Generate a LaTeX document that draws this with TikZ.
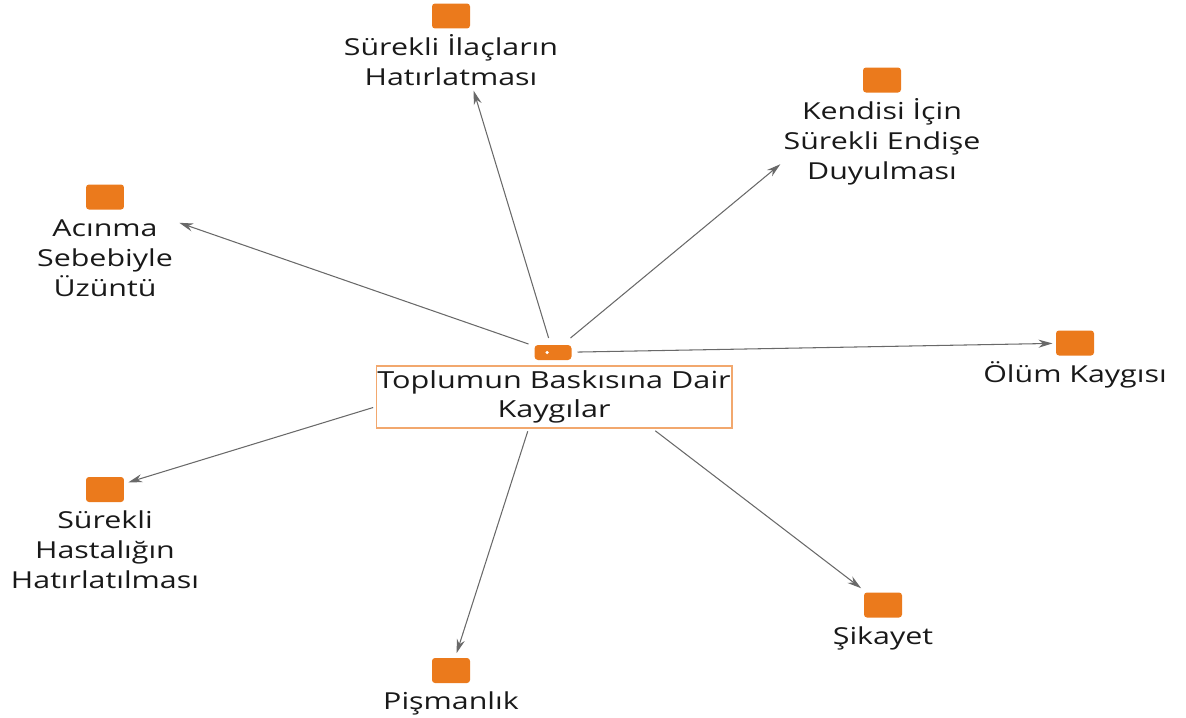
\documentclass[tikz,border=0pt]{standalone}
\usepackage{fontspec}
\setmainfont{Open Sans}[FakeStretch=1.3]
\usetikzlibrary{positioning,arrows.meta}

\definecolor{iconorange}{RGB}{235,122,28}
\definecolor{boxorange}{RGB}{242,168,110}
\definecolor{linkgray}{RGB}{105,105,105}
\newcommand{\topstrut}{\rule{0pt}{1em}}

\tikzset{
    icon/.style={fill=iconorange, rounded corners=0.06cm, minimum width=0.76cm,
        minimum height=0.5cm, inner sep=0pt, outer sep=0pt},
    leaf/.style={align=center, inner sep=0pt, text=black!90,
        font=\fontsize{13.3pt}{17.1pt}\selectfont},
    tagbox/.style={fill=iconorange, rounded corners=0.07cm, minimum width=0.74cm,
        minimum height=0.3cm, inner sep=0pt, outer xsep=0.12cm, outer ysep=0.14cm},
    centerbox/.style={draw=boxorange, line width=0.6pt, align=center, text=black!90,
        minimum width=7.12cm, minimum height=1.24cm, inner sep=0pt,
        font=\fontsize{13.4pt}{16.2pt}\selectfont},
    link/.style={draw=linkgray, line width=0.6pt, -{Stealth[length=8pt,width=4.6pt]}}
}

\begin{document}
\begin{tikzpicture}[x=0.02cm, y=-0.02cm]
    \useasboundingbox (0,0) rectangle (1186,717);

    % Center
    \node[centerbox] (kaygi) at (554,397) {Toplumun Baskısına Dair\\Kaygılar};
    \node[tagbox] (tag) at (553,352.5) {};
    \fill[white] (tag.center) ++(-6,0) circle[radius=0.035cm];

    % Codes
    \node[icon] (ilacI) at (451,16) {};
    \node[leaf, below=0.06cm of ilacI] (ilacT) {\topstrut Sürekli İlaçların\\Hatırlatması};

    \node[icon] (kendiI) at (882,80) {};
    \node[leaf, below=0.06cm of kendiI] (kendiT) {\topstrut Kendisi İçin\\Sürekli Endişe\\Duyulması};

    \node[icon] (acinI) at (105,197) {};
    \node[leaf, below=0.06cm of acinI] (acinT) {\topstrut Acınma\\Sebebiyle\\Üzüntü};

    \node[icon] (olumI) at (1075,343) {};
    \node[leaf, below=0.06cm of olumI] (olumT) {\topstrut Ölüm Kaygısı};

    \node[icon] (hastI) at (105,489.5) {};
    \node[leaf, below=0.06cm of hastI] (hastT) {\topstrut Sürekli\\Hastalığın\\Hatırlatılması};

    \node[icon] (sikI) at (883,605) {};
    \node[leaf, below=0.06cm of sikI] (sikT) {\topstrut Şikayet};

    \node[icon] (pismI) at (451,670.5) {};
    \node[leaf, below=0.06cm of pismI] (pismT) {\topstrut Pişmanlık};

    % Links
    \draw[link, shorten >=1.30cm] (tag) -- (ilacI);
    \draw[link, shorten >=2.25cm] (tag) -- (kendiI);
    \draw[link, shorten >=1.17cm] (tag) -- (acinI);
    \draw[link, shorten >=0.07cm] (tag) -- (olumI);
    \draw[link, shorten <=3.25cm, shorten >=0.09cm] (tag) -- (hastI);
    \draw[link, shorten <=2.10cm, shorten >=0.14cm] (tag) -- (sikI);
    \draw[link, shorten <=1.35cm, shorten >=0.10cm] (tag) -- (pismI);
\end{tikzpicture}
\end{document}
